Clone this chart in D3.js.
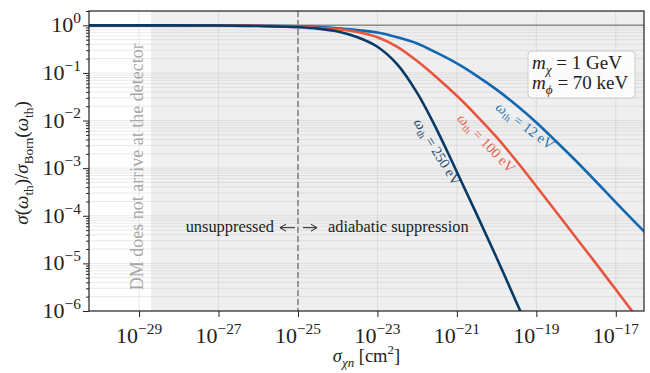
<!DOCTYPE html>
<html lang="en">

<head>
    <meta charset="UTF-8">
    <title>Adiabatic suppression</title>
</head>

<style>
    body,
    html {
        margin: 0;
        padding: 0;
        background: #fff;
    }

    text {
        font-family: "Liberation Serif", "DejaVu Serif", serif;
        fill: #222;
    }
</style>

<body>
    <svg id="svg" width="650" height="373"></svg>

    <script src="https://d3js.org/d3.v7.min.js"></script>
    <script>
        // values, log10 units
        const xs12 = [-30.3, -27, -26, -25, -24, -23.5, -23, -22.5, -22, -21.5, -21, -20.5, -20, -19.5, -19, -18.5, -18, -17.5, -17, -16.5, -16.2];
        const ys12 = [0, -0.005, -0.01, -0.02, -0.06, -0.1, -0.15, -0.25, -0.38, -0.58, -0.8, -1.06, -1.35, -1.68, -2.04, -2.44, -2.85, -3.28, -3.72, -4.15, -4.4];

        const xs100 = [-30.3, -27, -26, -25, -24, -23.5, -23, -22.5, -22, -21.5, -21, -20.5, -20, -19.5, -19, -18.5, -18, -17.5, -17, -16.5];
        const ys100 = [0, -0.005, -0.01, -0.03, -0.08, -0.14, -0.25, -0.45, -0.75, -1.1, -1.48, -1.9, -2.35, -2.85, -3.38, -3.92, -4.46, -5.0, -5.55, -6.1];

        const xs250 = [-30.3, -27, -26, -25, -24.5, -24, -23.5, -23, -22.5, -22, -21.5, -21, -20.5, -20, -19.5, -19.3];
        const ys250 = [0, -0.005, -0.015, -0.04, -0.07, -0.13, -0.25, -0.45, -0.82, -1.42, -2.2, -3.08, -3.97, -4.88, -5.82, -6.2];

        const xTickExps = [-29, -27, -25, -23, -21, -19, -17];
        const yTickExps = [0, -1, -2, -3, -4, -5, -6];

        const series = [
            { name: "12", xs: xs12, ys: ys12, color: "#1267b0", lx: -19.31, ly: -2.14, angle: 37 },
            { name: "100", xs: xs100, ys: ys100, color: "#e8553f", lx: -20.29, ly: -2.5, angle: 46 },
            { name: "250", xs: xs250, ys: ys250, color: "#083a66", lx: -21.53, ly: -2.68, angle: 58 }
        ];

        const margin = { top: 11, right: 6, bottom: 62, left: 89 };
        const width = 650 - margin.left - margin.right;
        const height = 373 - margin.top - margin.bottom;

        const xscale = d3.scaleLog()
            .domain([10 ** -30.26, 10 ** -16.29])
            .range([margin.left, margin.left + width]);

        const yscale = d3.scaleLog()
            .domain([1e-6, 2])
            .range([margin.top + height, margin.top]);

        const svg = d3.select('#svg');

        // small helper for math-like labels: [text, kind]
        function rich(sel, parts, fs) {
            let cur = 0;
            parts.forEach(([t, k]) => {
                const small = k === 'sub' || k === 'subi' || k === 'sup';
                const target = (k === 'sub' || k === 'subi') ? fs * 0.28 : k === 'sup' ? -fs * 0.42 : 0;
                const ts = sel.append('tspan').text(t).attr('dy', target - cur);
                cur = target;
                if (small) ts.attr('font-size', fs * 0.7);
                if (k === 'i' || k === 'subi') ts.attr('font-style', 'italic');
            });
        }

        svg.append('defs').append('clipPath').attr('id', 'clip')
            .append('rect')
            .attr('x', margin.left).attr('y', margin.top)
            .attr('width', width).attr('height', height);

        // shaded part where the DM does arrive
        svg.append('rect')
            .attr('x', xscale(10 ** -28.7))
            .attr('y', margin.top)
            .attr('width', margin.left + width - xscale(10 ** -28.7))
            .attr('height', height)
            .attr('fill', '#efefef');

        // grid
        const yGridVals = [];
        for (let k = -6; k <= 0; k++) {
            for (let m = 1; m <= 9; m++) {
                const v = m * 10 ** k;
                if (v <= 2) yGridVals.push(v);
            }
        }

        const grid = svg.append('g').attr('clip-path', 'url(#clip)');
        grid.selectAll('.hg').data(yGridVals).join('line')
            .attr('x1', margin.left).attr('x2', margin.left + width)
            .attr('y1', d => yscale(d)).attr('y2', d => yscale(d))
            .attr('stroke', '#b0b0b0').attr('stroke-opacity', 0.35).attr('stroke-width', 0.8);
        grid.selectAll('.vg').data(xTickExps).join('line')
            .attr('y1', margin.top).attr('y2', margin.top + height)
            .attr('x1', d => xscale(10 ** d)).attr('x2', d => xscale(10 ** d))
            .attr('stroke', '#b0b0b0').attr('stroke-opacity', 0.35).attr('stroke-width', 0.8);

        // "DM does not arrive at the detector"
        svg.append('text')
            .attr('transform', `translate(${xscale(1e-29)}, ${yscale(10 ** -2.97)}) rotate(-90)`)
            .attr('text-anchor', 'middle')
            .attr('dominant-baseline', 'middle')
            .attr('font-size', 18)
            .style('fill', '#a8a8a8')
            .text('DM does not arrive at the detector');

        // sigma = sigma_Born
        svg.append('line')
            .attr('x1', margin.left).attr('x2', margin.left + width)
            .attr('y1', yscale(1)).attr('y2', yscale(1))
            .attr('stroke', '#8a8a8a').attr('stroke-width', 1.5);

        // boundary between regimes
        svg.append('line')
            .attr('x1', xscale(1e-25)).attr('x2', xscale(1e-25))
            .attr('y1', margin.top).attr('y2', margin.top + height)
            .attr('stroke', '#8f8f8f').attr('stroke-width', 1.8)
            .attr('stroke-dasharray', '6,3');

        const line = d3.line()
            .x(d => xscale(10 ** d[0]))
            .y(d => yscale(10 ** d[1]))
            .curve(d3.curveCatmullRom.alpha(0.5));

        const curves = svg.append('g').attr('clip-path', 'url(#clip)');
        series.forEach(s => {
            curves.append('path')
                .datum(s.xs.map((x, i) => [x, s.ys[i]]))
                .attr('fill', 'none')
                .attr('stroke', s.color)
                .attr('stroke-width', 2.6)
                .attr('d', line);
        });

        // curve labels
        series.forEach(s => {
            const t = svg.append('text')
                .attr('transform', `translate(${xscale(10 ** s.lx)}, ${yscale(10 ** s.ly)}) rotate(${s.angle})`)
                .attr('text-anchor', 'middle')
                .attr('dominant-baseline', 'middle')
                .attr('font-size', 14.5)
                .style('fill', s.color)
                .style('opacity', 0.9);
            rich(t, [['ω', 'i'], ['th', 'sub'], [` = ${s.name} eV`, 'n']], 14.5);
        });

        // regime annotation
        const ay = yscale(10 ** -4.25);
        const ax = xscale(1e-25);
        svg.append('text')
            .attr('x', ax - 24).attr('y', ay + 4.5)
            .attr('text-anchor', 'end')
            .attr('font-size', 16.4)
            .text('unsuppressed');
        svg.append('text')
            .attr('x', ax + 30).attr('y', ay + 4.5)
            .attr('font-size', 16.4)
            .text('adiabatic suppression');

        const arrows = [[ax - 3, ax - 18], [ax + 5, ax + 19]];
        arrows.forEach(([x0, x1]) => {
            const dir = Math.sign(x1 - x0);
            svg.append('path')
                .attr('d', `M${x0},${ay} L${x1},${ay} M${x1 - dir * 6},${ay - 3.5} L${x1},${ay} L${x1 - dir * 6},${ay + 3.5}`)
                .attr('fill', 'none')
                .attr('stroke', '#222')
                .attr('stroke-width', 1);
        });

        // legend box
        const lg = svg.append('g');
        lg.append('rect')
            .attr('x', 528).attr('y', 51)
            .attr('width', 107).attr('height', 47)
            .attr('rx', 4)
            .attr('fill', '#fff').attr('fill-opacity', 0.8)
            .attr('stroke', '#cccccc');
        const l1 = lg.append('text').attr('x', 532).attr('y', 69).attr('font-size', 19);
        rich(l1, [['m', 'i'], ['χ', 'subi'], [' = 1 GeV', 'n']], 19);
        const l2 = lg.append('text').attr('x', 532).attr('y', 89).attr('font-size', 19);
        rich(l2, [['m', 'i'], ['ϕ', 'subi'], [' = 70 keV', 'n']], 19);

        // axes
        const bottomAxis = svg.append('g')
            .attr('transform', `translate(0, ${margin.top + height})`)
            .call(d3.axisBottom(xscale).tickValues(xTickExps.map(d => 10 ** d)).tickSize(6).tickFormat(''));
        bottomAxis.select('.domain').remove();
        bottomAxis.selectAll('line').attr('stroke', '#222');

        const yMinor = yGridVals.filter(v => yTickExps.every(e => Math.abs(Math.log10(v) - e) > 1e-6));
        const leftAxis = svg.append('g')
            .attr('transform', `translate(${margin.left}, 0)`)
            .call(d3.axisLeft(yscale).tickValues(yTickExps.map(d => 10 ** d)).tickSize(6).tickFormat(''));
        leftAxis.select('.domain').remove();
        leftAxis.selectAll('line').attr('stroke', '#222');
        svg.append('g')
            .attr('transform', `translate(${margin.left}, 0)`)
            .call(d3.axisLeft(yscale).tickValues(yMinor).tickSize(3).tickFormat(''))
            .call(g => g.select('.domain').remove())
            .selectAll('line').attr('stroke', '#222');

        // frame
        svg.append('rect')
            .attr('x', margin.left).attr('y', margin.top)
            .attr('width', width).attr('height', height)
            .attr('fill', 'none').attr('stroke', '#222').attr('stroke-width', 1.2);

        // tick labels
        const tfs = 22;
        xTickExps.forEach(e => {
            const t = svg.append('text')
                .attr('x', xscale(10 ** e))
                .attr('y', margin.top + height + 32)
                .attr('text-anchor', 'middle')
                .attr('font-size', tfs);
            rich(t, [['10', 'n'], [(e < 0 ? '−' : '') + Math.abs(e), 'sup']], tfs);
        });
        yTickExps.forEach(e => {
            const t = svg.append('text')
                .attr('x', margin.left - 8)
                .attr('y', yscale(10 ** e) + 7)
                .attr('text-anchor', 'end')
                .attr('font-size', tfs);
            rich(t, [['10', 'n'], [(e < 0 ? '−' : '') + Math.abs(e), 'sup']], tfs);
        });

        // axis titles
        const xl = svg.append('text')
            .attr('x', margin.left + width / 2)
            .attr('y', 362)
            .attr('text-anchor', 'middle')
            .attr('font-size', 18.5);
        rich(xl, [['σ', 'i'], ['χn', 'subi'], [' [cm', 'n'], ['2', 'sup'], [']', 'n']], 18.5);

        const yl = svg.append('text')
            .attr('transform', `translate(28, ${margin.top + height / 2 + 2}) rotate(-90)`)
            .attr('text-anchor', 'middle')
            .attr('font-size', 19);
        rich(yl, [['σ', 'i'], ['(', 'n'], ['ω', 'i'], ['th', 'sub'], [')/', 'n'], ['σ', 'i'], ['Born', 'sub'], ['(', 'n'], ['ω', 'i'], ['th', 'sub'], [')', 'n']], 19);
    </script>
</body>

</html>
